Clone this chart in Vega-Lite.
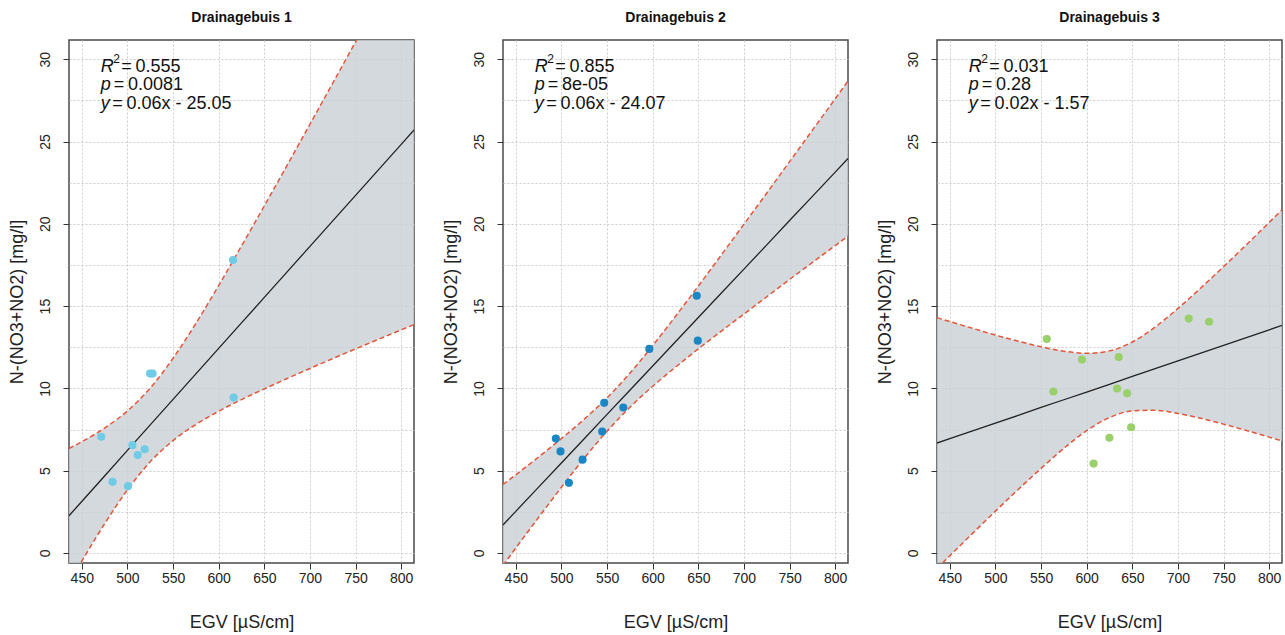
{
  "$schema": "https://vega.github.io/schema/vega-lite/v6.json",
  "padding": {"left": 7, "top": 11, "right": 2, "bottom": 2},
  "background": "white",
  "spacing": 26,
  "config": {
    "font": "Liberation Sans",
    "view": {"stroke": "#4a4a4a", "strokeWidth": 1.5},
    "axis": {"domain": false, "grid": true, "gridColor": "#cccccc", "gridDash": [2, 2], "gridWidth": 1, "tickColor": "#333333", "tickSize": 6, "labelFontSize": 14, "labelColor": "#222222", "titleFontSize": 18, "titleFontWeight": "normal", "titleColor": "#222222", "labelFont": "Liberation Sans", "titleFont": "Liberation Sans"}
  },
  "data": {"values": [
    {"panel": "Drainagebuis 1", "kind": "pt", "egv": 471.3, "n": 7.06},
    {"panel": "Drainagebuis 1", "kind": "pt", "egv": 483.7, "n": 4.32},
    {"panel": "Drainagebuis 1", "kind": "pt", "egv": 500.6, "n": 4.06},
    {"panel": "Drainagebuis 1", "kind": "pt", "egv": 505.5, "n": 6.55},
    {"panel": "Drainagebuis 1", "kind": "pt", "egv": 511.2, "n": 5.95},
    {"panel": "Drainagebuis 1", "kind": "pt", "egv": 518.9, "n": 6.3},
    {"panel": "Drainagebuis 1", "kind": "pt", "egv": 524.8, "n": 10.9},
    {"panel": "Drainagebuis 1", "kind": "pt", "egv": 527.6, "n": 10.9},
    {"panel": "Drainagebuis 1", "kind": "pt", "egv": 615.7, "n": 17.8},
    {"panel": "Drainagebuis 1", "kind": "pt", "egv": 616.4, "n": 9.44},
    {"panel": "Drainagebuis 2", "kind": "pt", "egv": 648.3, "n": 15.63},
    {"panel": "Drainagebuis 2", "kind": "pt", "egv": 649.4, "n": 12.9},
    {"panel": "Drainagebuis 2", "kind": "pt", "egv": 596.3, "n": 12.4},
    {"panel": "Drainagebuis 2", "kind": "pt", "egv": 546.9, "n": 9.12},
    {"panel": "Drainagebuis 2", "kind": "pt", "egv": 567.8, "n": 8.84},
    {"panel": "Drainagebuis 2", "kind": "pt", "egv": 544.7, "n": 7.38},
    {"panel": "Drainagebuis 2", "kind": "pt", "egv": 493.9, "n": 6.95},
    {"panel": "Drainagebuis 2", "kind": "pt", "egv": 499.0, "n": 6.17},
    {"panel": "Drainagebuis 2", "kind": "pt", "egv": 523.2, "n": 5.67},
    {"panel": "Drainagebuis 2", "kind": "pt", "egv": 508.2, "n": 4.26},
    {"panel": "Drainagebuis 3", "kind": "pt", "egv": 556.3, "n": 13.0},
    {"panel": "Drainagebuis 3", "kind": "pt", "egv": 594.8, "n": 11.75},
    {"panel": "Drainagebuis 3", "kind": "pt", "egv": 635.1, "n": 11.9},
    {"panel": "Drainagebuis 3", "kind": "pt", "egv": 563.6, "n": 9.81},
    {"panel": "Drainagebuis 3", "kind": "pt", "egv": 633.3, "n": 9.99},
    {"panel": "Drainagebuis 3", "kind": "pt", "egv": 644.3, "n": 9.7},
    {"panel": "Drainagebuis 3", "kind": "pt", "egv": 648.7, "n": 7.64},
    {"panel": "Drainagebuis 3", "kind": "pt", "egv": 624.9, "n": 7.0},
    {"panel": "Drainagebuis 3", "kind": "pt", "egv": 607.6, "n": 5.43},
    {"panel": "Drainagebuis 3", "kind": "pt", "egv": 711.8, "n": 14.24},
    {"panel": "Drainagebuis 3", "kind": "pt", "egv": 734.1, "n": 14.05},

    {"panel": "Drainagebuis 1", "kind": "band", "egv": 436, "lo": -1.82, "hi": 6.35, "fit": 2.26},
    {"panel": "Drainagebuis 1", "kind": "band", "egv": 450, "lo": -0.5, "hi": 6.76, "fit": 3.13},
    {"panel": "Drainagebuis 1", "kind": "band", "egv": 475, "lo": 1.77, "hi": 7.59, "fit": 4.68},
    {"panel": "Drainagebuis 1", "kind": "band", "egv": 500, "lo": 3.83, "hi": 8.63, "fit": 6.23},
    {"panel": "Drainagebuis 1", "kind": "band", "egv": 525, "lo": 5.54, "hi": 10.02, "fit": 7.78},
    {"panel": "Drainagebuis 1", "kind": "band", "egv": 550, "lo": 6.83, "hi": 11.83, "fit": 9.33},
    {"panel": "Drainagebuis 1", "kind": "band", "egv": 575, "lo": 7.81, "hi": 13.95, "fit": 10.88},
    {"panel": "Drainagebuis 1", "kind": "band", "egv": 600, "lo": 8.61, "hi": 16.25, "fit": 12.43},
    {"panel": "Drainagebuis 1", "kind": "band", "egv": 625, "lo": 9.32, "hi": 18.65, "fit": 13.98},
    {"panel": "Drainagebuis 1", "kind": "band", "egv": 650, "lo": 9.97, "hi": 21.09, "fit": 15.53},
    {"panel": "Drainagebuis 1", "kind": "band", "egv": 675, "lo": 10.6, "hi": 23.56, "fit": 17.08},
    {"panel": "Drainagebuis 1", "kind": "band", "egv": 700, "lo": 11.21, "hi": 26.05, "fit": 18.63},
    {"panel": "Drainagebuis 1", "kind": "band", "egv": 725, "lo": 11.81, "hi": 28.55, "fit": 20.18},
    {"panel": "Drainagebuis 1", "kind": "band", "egv": 750, "lo": 12.4, "hi": 31.06, "fit": 21.73},
    {"panel": "Drainagebuis 1", "kind": "band", "egv": 775, "lo": 12.98, "hi": 33.58, "fit": 23.28},
    {"panel": "Drainagebuis 1", "kind": "band", "egv": 800, "lo": 13.56, "hi": 36.1, "fit": 24.83},
    {"panel": "Drainagebuis 1", "kind": "band", "egv": 814, "lo": 13.88, "hi": 37.52, "fit": 25.7},

    {"panel": "Drainagebuis 2", "kind": "band", "egv": 436, "lo": -0.76, "hi": 4.16, "fit": 1.7},
    {"panel": "Drainagebuis 2", "kind": "band", "egv": 450, "lo": 0.3, "hi": 4.75, "fit": 2.53},
    {"panel": "Drainagebuis 2", "kind": "band", "egv": 475, "lo": 2.16, "hi": 5.83, "fit": 4.0},
    {"panel": "Drainagebuis 2", "kind": "band", "egv": 500, "lo": 3.99, "hi": 6.95, "fit": 5.47},
    {"panel": "Drainagebuis 2", "kind": "band", "egv": 525, "lo": 5.76, "hi": 8.13, "fit": 6.94},
    {"panel": "Drainagebuis 2", "kind": "band", "egv": 550, "lo": 7.4, "hi": 9.43, "fit": 8.42},
    {"panel": "Drainagebuis 2", "kind": "band", "egv": 575, "lo": 8.85, "hi": 10.92, "fit": 9.89},
    {"panel": "Drainagebuis 2", "kind": "band", "egv": 600, "lo": 10.13, "hi": 12.6, "fit": 11.36},
    {"panel": "Drainagebuis 2", "kind": "band", "egv": 625, "lo": 11.29, "hi": 14.38, "fit": 12.83},
    {"panel": "Drainagebuis 2", "kind": "band", "egv": 650, "lo": 12.4, "hi": 16.22, "fit": 14.31},
    {"panel": "Drainagebuis 2", "kind": "band", "egv": 675, "lo": 13.47, "hi": 18.09, "fit": 15.78},
    {"panel": "Drainagebuis 2", "kind": "band", "egv": 700, "lo": 14.52, "hi": 19.98, "fit": 17.25},
    {"panel": "Drainagebuis 2", "kind": "band", "egv": 725, "lo": 15.57, "hi": 21.87, "fit": 18.72},
    {"panel": "Drainagebuis 2", "kind": "band", "egv": 750, "lo": 16.62, "hi": 23.78, "fit": 20.2},
    {"panel": "Drainagebuis 2", "kind": "band", "egv": 775, "lo": 17.65, "hi": 25.69, "fit": 21.67},
    {"panel": "Drainagebuis 2", "kind": "band", "egv": 800, "lo": 18.68, "hi": 27.6, "fit": 23.14},
    {"panel": "Drainagebuis 2", "kind": "band", "egv": 814, "lo": 19.26, "hi": 28.68, "fit": 23.97},

    {"panel": "Drainagebuis 3", "kind": "band", "egv": 436, "lo": -0.94, "hi": 14.3, "fit": 6.68},
    {"panel": "Drainagebuis 3", "kind": "band", "egv": 450, "lo": -0.17, "hi": 14.06, "fit": 6.95},
    {"panel": "Drainagebuis 3", "kind": "band", "egv": 475, "lo": 1.19, "hi": 13.65, "fit": 7.42},
    {"panel": "Drainagebuis 3", "kind": "band", "egv": 500, "lo": 2.54, "hi": 13.24, "fit": 7.89},
    {"panel": "Drainagebuis 3", "kind": "band", "egv": 525, "lo": 3.86, "hi": 12.87, "fit": 8.36},
    {"panel": "Drainagebuis 3", "kind": "band", "egv": 550, "lo": 5.14, "hi": 12.53, "fit": 8.84},
    {"panel": "Drainagebuis 3", "kind": "band", "egv": 575, "lo": 6.36, "hi": 12.26, "fit": 9.31},
    {"panel": "Drainagebuis 3", "kind": "band", "egv": 600, "lo": 7.43, "hi": 12.13, "fit": 9.78},
    {"panel": "Drainagebuis 3", "kind": "band", "egv": 625, "lo": 8.23, "hi": 12.28, "fit": 10.25},
    {"panel": "Drainagebuis 3", "kind": "band", "egv": 650, "lo": 8.63, "hi": 12.82, "fit": 10.73},
    {"panel": "Drainagebuis 3", "kind": "band", "egv": 675, "lo": 8.67, "hi": 13.73, "fit": 11.2},
    {"panel": "Drainagebuis 3", "kind": "band", "egv": 700, "lo": 8.48, "hi": 14.86, "fit": 11.67},
    {"panel": "Drainagebuis 3", "kind": "band", "egv": 725, "lo": 8.18, "hi": 16.1, "fit": 12.14},
    {"panel": "Drainagebuis 3", "kind": "band", "egv": 750, "lo": 7.83, "hi": 17.4, "fit": 12.62},
    {"panel": "Drainagebuis 3", "kind": "band", "egv": 775, "lo": 7.44, "hi": 18.73, "fit": 13.09},
    {"panel": "Drainagebuis 3", "kind": "band", "egv": 800, "lo": 7.04, "hi": 20.09, "fit": 13.56},
    {"panel": "Drainagebuis 3", "kind": "band", "egv": 814, "lo": 6.8, "hi": 20.85, "fit": 13.83},

    {"panel": "Drainagebuis 1", "kind": "ann", "r2": "=\u20090.555", "p": "=\u20090.0081", "eq": "=\u20090.06x - 25.05"},
    {"panel": "Drainagebuis 2", "kind": "ann", "r2": "=\u20090.855", "p": "=\u20098e-05", "eq": "=\u20090.06x - 24.07"},
    {"panel": "Drainagebuis 3", "kind": "ann", "r2": "=\u20090.031", "p": "=\u20090.28", "eq": "=\u20090.02x - 1.57"}
  ]},
  "facet": {"column": {"field": "panel", "type": "nominal", "header": {"title": null, "labelFontSize": 14, "labelFontWeight": "bold", "labelFont": "Liberation Sans", "labelColor": "#111111", "labelPadding": 14}}},
  "resolve": {"axis": {"x": "independent", "y": "independent"}},
  "spec": {
    "width": 345,
    "height": 523,
    "layer": [
      {
        "transform": [{"filter": "datum.kind === 'band'"}],
        "mark": {"type": "area", "clip": true, "interpolate": "monotone", "color": "#c9cfd4", "opacity": 0.8},
        "encoding": {
          "x": {"field": "egv", "type": "quantitative", "scale": {"domain": [436, 814], "nice": false, "zero": false}, "title": "EGV [µS/cm]", "axis": {"values": [450, 475, 500, 525, 550, 575, 600, 625, 650, 675, 700, 725, 750, 775, 800], "labelExpr": "datum.value % 50 === 0 ? datum.label : ''", "tickOpacity": {"condition": {"test": "datum.value % 50 === 0", "value": 1}, "value": 0}, "labelPadding": 2, "titlePadding": 28}},
          "y": {"field": "lo", "type": "quantitative", "scale": {"domain": [-0.61, 31.17], "nice": false, "zero": false}, "title": "N-(NO3+NO2) [mg/l]", "axis": {"values": [0, 2.5, 5, 7.5, 10, 12.5, 15, 17.5, 20, 22.5, 25, 27.5, 30], "labelExpr": "datum.value % 5 === 0 ? datum.label : ''", "tickOpacity": {"condition": {"test": "datum.value % 5 === 0", "value": 1}, "value": 0}, "labelAngle": 270, "labelAlign": "center", "labelBaseline": "alphabetic", "labelPadding": 14, "titlePadding": 12}},
          "y2": {"field": "hi"}
        }
      },
      {
        "transform": [{"filter": "datum.kind === 'band'"}],
        "mark": {"type": "line", "clip": true, "interpolate": "monotone", "color": "#e4563a", "strokeWidth": 1.5, "strokeDash": [5, 3]},
        "encoding": {
          "x": {"field": "egv", "type": "quantitative", "scale": {"domain": [436, 814], "nice": false, "zero": false}, "title": "EGV [µS/cm]"},
          "y": {"field": "lo", "type": "quantitative", "scale": {"domain": [-0.61, 31.17], "nice": false, "zero": false}, "title": "N-(NO3+NO2) [mg/l]"}
        }
      },
      {
        "transform": [{"filter": "datum.kind === 'band'"}],
        "mark": {"type": "line", "clip": true, "interpolate": "monotone", "color": "#e4563a", "strokeWidth": 1.5, "strokeDash": [5, 3]},
        "encoding": {
          "x": {"field": "egv", "type": "quantitative", "scale": {"domain": [436, 814], "nice": false, "zero": false}, "title": "EGV [µS/cm]"},
          "y": {"field": "hi", "type": "quantitative", "scale": {"domain": [-0.61, 31.17], "nice": false, "zero": false}, "title": "N-(NO3+NO2) [mg/l]"}
        }
      },
      {
        "transform": [{"filter": "datum.kind === 'band'"}],
        "mark": {"type": "line", "clip": true, "color": "#222222", "strokeWidth": 1.3},
        "encoding": {
          "x": {"field": "egv", "type": "quantitative", "scale": {"domain": [436, 814], "nice": false, "zero": false}, "title": "EGV [µS/cm]"},
          "y": {"field": "fit", "type": "quantitative", "scale": {"domain": [-0.61, 31.17], "nice": false, "zero": false}, "title": "N-(NO3+NO2) [mg/l]"}
        }
      },
      {
        "transform": [{"filter": "datum.kind === 'pt'"}],
        "mark": {"type": "circle", "size": 66, "opacity": 1},
        "encoding": {
          "x": {"field": "egv", "type": "quantitative", "scale": {"domain": [436, 814], "nice": false, "zero": false}, "title": "EGV [µS/cm]"},
          "y": {"field": "n", "type": "quantitative", "scale": {"domain": [-0.61, 31.17], "nice": false, "zero": false}, "title": "N-(NO3+NO2) [mg/l]"},
          "color": {"field": "panel", "type": "nominal", "scale": {"domain": ["Drainagebuis 1", "Drainagebuis 2", "Drainagebuis 3"], "range": ["#6fcbe6", "#1a86c4", "#9ad06b"]}, "legend": null}
        }
      },
      {
        "transform": [{"filter": "datum.kind === 'ann'"}],
        "mark": {"type": "text", "text": "R", "fontStyle": "italic", "fontSize": 18, "align": "left", "baseline": "alphabetic", "color": "#111111"},
        "encoding": {
          "x": {"datum": 470.8, "type": "quantitative", "scale": {"domain": [436, 814], "nice": false, "zero": false}, "title": "EGV [µS/cm]"},
          "y": {"datum": 29.24, "type": "quantitative", "scale": {"domain": [-0.61, 31.17], "nice": false, "zero": false}, "title": "N-(NO3+NO2) [mg/l]"}
        }
      },
      {
        "transform": [{"filter": "datum.kind === 'ann'"}],
        "mark": {"type": "text", "text": "2", "fontSize": 12, "align": "left", "baseline": "alphabetic", "dx": 12.5, "dy": -8.4, "color": "#111111"},
        "encoding": {
          "x": {"datum": 470.8, "type": "quantitative", "scale": {"domain": [436, 814], "nice": false, "zero": false}, "title": "EGV [µS/cm]"},
          "y": {"datum": 29.24, "type": "quantitative", "scale": {"domain": [-0.61, 31.17], "nice": false, "zero": false}, "title": "N-(NO3+NO2) [mg/l]"}
        }
      },
      {
        "transform": [{"filter": "datum.kind === 'ann'"}],
        "mark": {"type": "text", "fontSize": 18, "align": "left", "baseline": "alphabetic", "dx": 20.5, "color": "#111111"},
        "encoding": {
          "x": {"datum": 470.8, "type": "quantitative", "scale": {"domain": [436, 814], "nice": false, "zero": false}, "title": "EGV [µS/cm]"},
          "y": {"datum": 29.24, "type": "quantitative", "scale": {"domain": [-0.61, 31.17], "nice": false, "zero": false}, "title": "N-(NO3+NO2) [mg/l]"},
          "text": {"field": "r2", "type": "nominal"}
        }
      },
      {
        "transform": [{"filter": "datum.kind === 'ann'"}],
        "mark": {"type": "text", "text": "p", "fontStyle": "italic", "fontSize": 18, "align": "left", "baseline": "alphabetic", "dy": 18.3, "color": "#111111"},
        "encoding": {
          "x": {"datum": 470.8, "type": "quantitative", "scale": {"domain": [436, 814], "nice": false, "zero": false}, "title": "EGV [µS/cm]"},
          "y": {"datum": 29.24, "type": "quantitative", "scale": {"domain": [-0.61, 31.17], "nice": false, "zero": false}, "title": "N-(NO3+NO2) [mg/l]"}
        }
      },
      {
        "transform": [{"filter": "datum.kind === 'ann'"}],
        "mark": {"type": "text", "fontSize": 18, "align": "left", "baseline": "alphabetic", "dx": 13, "dy": 18.3, "color": "#111111"},
        "encoding": {
          "x": {"datum": 470.8, "type": "quantitative", "scale": {"domain": [436, 814], "nice": false, "zero": false}, "title": "EGV [µS/cm]"},
          "y": {"datum": 29.24, "type": "quantitative", "scale": {"domain": [-0.61, 31.17], "nice": false, "zero": false}, "title": "N-(NO3+NO2) [mg/l]"},
          "text": {"field": "p", "type": "nominal"}
        }
      },
      {
        "transform": [{"filter": "datum.kind === 'ann'"}],
        "mark": {"type": "text", "text": "y", "fontStyle": "italic", "fontSize": 18, "align": "left", "baseline": "alphabetic", "dy": 37.3, "color": "#111111"},
        "encoding": {
          "x": {"datum": 470.8, "type": "quantitative", "scale": {"domain": [436, 814], "nice": false, "zero": false}, "title": "EGV [µS/cm]"},
          "y": {"datum": 29.24, "type": "quantitative", "scale": {"domain": [-0.61, 31.17], "nice": false, "zero": false}, "title": "N-(NO3+NO2) [mg/l]"}
        }
      },
      {
        "transform": [{"filter": "datum.kind === 'ann'"}],
        "mark": {"type": "text", "fontSize": 18, "align": "left", "baseline": "alphabetic", "dx": 11.5, "dy": 37.3, "color": "#111111"},
        "encoding": {
          "x": {"datum": 470.8, "type": "quantitative", "scale": {"domain": [436, 814], "nice": false, "zero": false}, "title": "EGV [µS/cm]"},
          "y": {"datum": 29.24, "type": "quantitative", "scale": {"domain": [-0.61, 31.17], "nice": false, "zero": false}, "title": "N-(NO3+NO2) [mg/l]"},
          "text": {"field": "eq", "type": "nominal"}
        }
      }
    ]
  }
}
